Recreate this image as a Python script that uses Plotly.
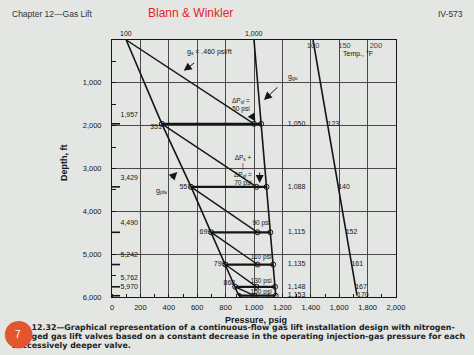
import plotly.graph_objects as go

# ---------------- data ----------------
valve_depth = [1957, 3429, 4490, 5242, 5762, 5970]          # ft
flow_press = [351, 557, 699, 799, 868, 893]                 # psig (flowing production pressure)
flow_labels = ["351", "557", "699", "799", "868", ""]
gas_press = [1050, 1088, 1115, 1135, 1148, 1153]            # psig (injection gas pressure at depth)
delta_p = [50, 70, 90, 110, 130, 150]                       # psi
valve_temp = [123, 140, 152, 161, 167, 170]                 # deg F

surface_flow = 100       # psig wellhead
surface_gas = 1000       # psig surface injection
surface_temp = 100       # deg F
static_grad_text = "g<sub>s</sub> = .460 psi/ft"

x_ticks = list(range(0, 2001, 200))
y_ticks = list(range(0, 6001, 1000))
temp_ticks = [100, 150, 200]

INK = "#151515"
BG = "#e3e6e3"
GRID = "#4a4a4a"
FONT = "Liberation Sans, Arial, sans-serif"

W, H = 474, 355
L, R, T, B = 112, 78, 40, 58
pw, ph = W - L - R, H - T - B

def px_x(p):
    return (p - L) / pw

def px_y(p):
    return (H - B - p) / ph

fig = go.Figure()

# flowing gradient line from wellhead through each valve
fig.add_trace(go.Scatter(x=[surface_flow] + flow_press, y=[0] + valve_depth,
                         mode="lines", line=dict(color=INK, width=1.6),
                         hoverinfo="skip", showlegend=False))

# injection-gas pressure line
fig.add_trace(go.Scatter(x=[surface_gas] + gas_press, y=[0] + valve_depth,
                         mode="lines", line=dict(color=INK, width=1.6),
                         hoverinfo="skip", showlegend=False))

# unloading gradient lines
target = [g - d for g, d in zip(gas_press, delta_p)]
starts_x = [surface_flow] + flow_press[:-1]
starts_y = [0] + valve_depth[:-1]
for sx, sy, tx, ty in zip(starts_x, starts_y, target, valve_depth):
    fig.add_trace(go.Scatter(x=[sx, tx], y=[sy, ty], mode="lines",
                             line=dict(color=INK, width=1.4),
                             hoverinfo="skip", showlegend=False))

# horizontal valve lines
for fp, gp, d in zip(flow_press, gas_press, valve_depth):
    fig.add_trace(go.Scatter(x=[fp, gp], y=[d, d], mode="lines",
                             line=dict(color=INK, width=2.2),
                             hoverinfo="skip", showlegend=False))

# circles
fig.add_trace(go.Scatter(x=flow_press + target + gas_press, y=valve_depth * 3,
                         mode="markers",
                         marker=dict(symbol="circle-open", size=5, color=INK, line=dict(width=1)),
                         hoverinfo="skip", showlegend=False))

# flowing pressure labels
lab_idx = [i for i, t in enumerate(flow_labels) if t]
fig.add_trace(go.Scatter(x=[flow_press[i] for i in lab_idx], y=[valve_depth[i] for i in lab_idx],
                         mode="text", text=[flow_labels[i] for i in lab_idx],
                         textposition=["bottom left", "middle left", "middle left",
                                       "middle left", "top left"],
                         textfont=dict(family=FONT, size=7, color=INK),
                         hoverinfo="skip", showlegend=False))

# gas pressure labels (right column)
fig.add_trace(go.Scatter(x=[1300] * len(gas_press), y=valve_depth, mode="text",
                         text=[f"{g:,}" for g in gas_press], textposition="middle center",
                         textfont=dict(family=FONT, size=7, color=INK),
                         hoverinfo="skip", showlegend=False))

# valve depth labels at left
fig.add_trace(go.Scatter(x=[22] * len(valve_depth), y=valve_depth, mode="markers+text",
                         marker=dict(symbol="line-ew", size=7, line=dict(color=INK, width=1.6)),
                         text=[f"{d:,}" for d in valve_depth], textposition="top right",
                         textfont=dict(family=FONT, size=7, color=INK),
                         hoverinfo="skip", showlegend=False))

# dP labels
dp_text = [f"{d} psi" for d in delta_p]
fig.add_trace(go.Scatter(x=[1050, 1050, 1050, 1050], y=[4270, 5070, 5630, 5890], mode="text",
                         text=dp_text[2:], textposition="middle center",
                         textfont=dict(family=FONT, size=6.5, color=INK),
                         hoverinfo="skip", showlegend=False))

# temperature line on secondary (top) axis
fig.add_trace(go.Scatter(x=[surface_temp] + valve_temp, y=[0] + valve_depth, xaxis="x2",
                         mode="lines", line=dict(color=INK, width=1.6),
                         hoverinfo="skip", showlegend=False))
fig.add_trace(go.Scatter(x=valve_temp, y=valve_depth, xaxis="x2",
                         mode="text", text=[str(t) for t in valve_temp],
                         textposition="middle right",
                         textfont=dict(family=FONT, size=7, color=INK),
                         hoverinfo="skip", showlegend=False))

ann = []
def txt(x, y, s, size=7, xref="x", yref="y", color=INK, family=FONT, **kw):
    d = dict(x=x, y=y, xref=xref, yref=yref, text=s, showarrow=False,
             font=dict(family=family, size=size, color=color))
    if xref == "paper":
        d.update(xanchor="center", yanchor="middle")
    d.update(kw)
    ann.append(d)

def arrow(x, y, ax, ay):
    ann.append(dict(x=x, y=y, xref="x", yref="y", ax=ax, ay=ay, text="",
                    showarrow=True, arrowhead=2, arrowsize=1.6, arrowwidth=1, arrowcolor=INK))

# top values
txt(surface_flow, 0, str(surface_flow), yanchor="bottom", yshift=1)
txt(surface_gas, 0, f"{surface_gas:,}", yanchor="bottom", yshift=1)

# gradient annotations
txt(690, 280, static_grad_text)
arrow(505, 720, 12, -9)
txt(1275, 870, "g<sub>gu</sub>")
arrow(1070, 1400, 15, -14)
txt(910, 1520, "ΔP<sub>sf</sub> =<br>50 psi", size=6.5)
arrow(1010, 1900, -5, -8)
txt(920, 3050, "ΔP<sub>s</sub> +<br>|<br>ΔP<sub>sf</sub> =<br>70 psi", size=6.5)
arrow(1040, 3340, 0, -12)
txt(350, 3520, "g<sub>pfa</sub>")
arrow(460, 3080, -8, 8)

# temperature axis caption
txt(px_x(358), px_y(54), "Temp., °F", xref="paper", yref="paper")

# axis titles
txt(px_x(256), px_y(320), "<b>Pressure, psig</b>", size=9, xref="paper", yref="paper")
txt(px_x(64), px_y(163), "<b>Depth, ft</b>", size=9, xref="paper", yref="paper", textangle=-90)

# page header
txt(px_x(10), px_y(14), "Chapter 12—Gas Lift", size=8.5, xref="paper", yref="paper",
    color="#333", xanchor="left")
txt(px_x(146), px_y(13), "Blann & Winkler", size=12, xref="paper", yref="paper",
    color="#e3222a", xanchor="left")
txt(px_x(436), px_y(14), "IV-573", size=8.5, xref="paper", yref="paper", color="#333",
    xanchor="left")

# caption
cap = ["Fig. 12.32—Graphical representation of a continuous-flow gas lift installation design with nitrogen-",
       "charged gas lift valves based on a constant decrease in the operating injection-gas pressure for each",
       "successively deeper valve."]
for i, line in enumerate(cap):
    txt(px_x(10), px_y(327 + 9 * i), f"<b>{line}</b>", size=7.9, xref="paper", yref="paper",
        color="#1e1e1e", family="DejaVu Sans", xanchor="left")

# red page badge (drawn last so it covers the caption start)
txt(px_x(18), px_y(331), "●", size=36, xref="paper", yref="paper", color="#e2562f",
    family="DejaVu Sans")
txt(px_x(18), px_y(334), "7", size=10, xref="paper", yref="paper", color="white")

fig.update_layout(
    width=W, height=H,
    margin=dict(l=L, r=R, t=T, b=B),
    paper_bgcolor=BG, plot_bgcolor=BG,
    font=dict(family=FONT, size=8, color=INK),
    annotations=ann,
    xaxis=dict(range=[0, 2000], tickvals=x_ticks, tickformat=",", showgrid=True,
               gridcolor=GRID, gridwidth=1, zeroline=False, showline=True,
               linecolor=INK, linewidth=1, mirror=True, ticks="",
               tickfont=dict(size=7.5), ticklabelstandoff=3,
               minor=dict(dtick=100, ticks="inside", ticklen=3, tickcolor=INK, showgrid=False)),
    xaxis2=dict(range=[-220, 232], overlaying="x", side="top", tickvals=temp_ticks,
                ticklabelposition="inside", showgrid=False, zeroline=False,
                showline=False, ticks="", tickfont=dict(size=7.5)),
    yaxis=dict(range=[6000, 0], tickvals=y_ticks, tickformat=",", showgrid=True,
               gridcolor=GRID, gridwidth=1, zeroline=False, showline=True,
               linecolor=INK, linewidth=1, mirror=True, ticks="",
               tickfont=dict(size=7.5), ticklabelstandoff=8,
               minor=dict(dtick=500, ticks="inside", ticklen=4, tickcolor=INK, showgrid=False)),
)

fig.write_html("out.html")
